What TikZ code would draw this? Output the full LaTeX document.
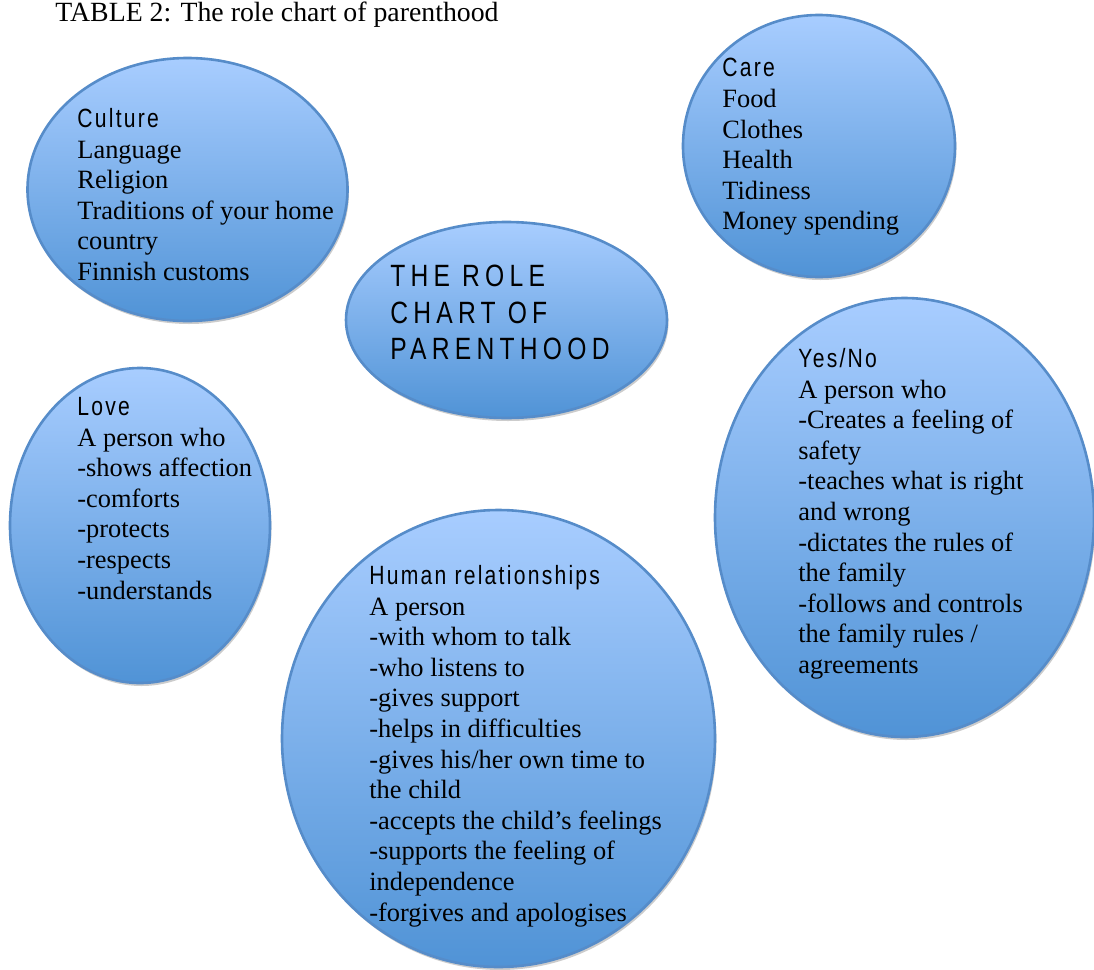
\documentclass[tikz,border=0pt]{standalone}
\usepackage{fontspec}
\setmainfont{Liberation Serif}
\newfontfamily\headfont[FakeStretch=0.8,LetterSpace=8.5]{Liberation Sans}
\newfontfamily\rolefont[FakeStretch=0.8,LetterSpace=17]{Liberation Sans}
\usepackage{tikz}

\definecolor{bubbletop}{RGB}{168,205,255}
\definecolor{bubblebot}{RGB}{80,147,214}
\definecolor{bubbleline}{RGB}{86,140,201}

\tikzset{
  bubble/.style={draw=bubbleline, line width=1.3pt, top color=bubbletop, bottom color=bubblebot},
  bubbleshadow/.style={fill=black!20, draw=none, shift={(1.5,3)}},
  bubbletext/.style={anchor=north west, inner sep=0pt, align=left, font=\fontsize{13.2}{15.3}\selectfont}
}

\begin{document}
\begin{tikzpicture}[x=0.5pt,y=0.5pt,yscale=-1,xscale=1]
\useasboundingbox (0,0) rectangle (1094,970);

%Shape: Ellipse [culture]
\path [bubbleshadow] (187.5,189.5) ellipse (160 and 131.5);
\draw [bubble] (187.5,189.5) ellipse (160 and 131.5);
%Shape: Ellipse [care]
\path [bubbleshadow] (819,146) ellipse (136 and 131);
\draw [bubble] (819,146) ellipse (136 and 131);
%Shape: Ellipse [role]
\path [bubbleshadow] (506.5,320) ellipse (160.5 and 98);
\draw [bubble] (506.5,320) ellipse (160.5 and 98);
%Shape: Ellipse [love]
\path [bubbleshadow] (140,525.5) ellipse (130 and 157.5);
\draw [bubble] (140,525.5) ellipse (130 and 157.5);
%Shape: Ellipse [yes/no]
\path [bubbleshadow] (904.5,517.5) ellipse (189.5 and 219.5);
\draw [bubble] (904.5,517.5) ellipse (189.5 and 219.5);
%Shape: Ellipse [human relationships]
\path [bubbleshadow] (498.5,738.5) ellipse (216.5 and 228.5);
\draw [bubble] (498.5,738.5) ellipse (216.5 and 228.5);

% Text Node
\draw (55,21) node (tabletitle) [anchor=base west] [inner sep=0pt] [font=\fontsize{13.9}{16}\selectfont] {TABLE 2: The role chart of parenthood};
% Text Node
\draw (77,108) node (culturetxt) [bubbletext] {{\headfont Culture}\\Language\\Religion\\Traditions of your home\\country\\Finnish customs};
% Text Node
\draw (722,58) node (caretxt) [bubbletext] {{\headfont Care}\\Food\\Clothes\\Health\\Tidiness\\Money spending};
% Text Node
\draw (390,265) node (roletxt) [bubbletext] [font=\rolefont\fontsize{15.4}{18.25}\selectfont] {THE ROLE\\CHART OF\\PARENTHOOD};
% Text Node
\draw (77,397) node (lovetxt) [bubbletext] {{\headfont Love}\\A person who\\-shows affection\\-comforts\\-protects\\-respects\\-understands};
% Text Node
\draw (798,348) node (yesnotxt) [bubbletext] {{\headfont Yes/No}\\A person who\\-Creates a feeling of\\safety\\-teaches what is right\\and wrong\\-dictates the rules of\\the family\\-follows and controls\\the family rules /\\agreements};
% Text Node
\draw (369,565) node (humantxt) [bubbletext] {{\headfont Human relationships}\\A person\\-with whom to talk\\-who listens to\\-gives support\\-helps in difficulties\\-gives his/her own time to\\the child\\-accepts the child’s feelings\\-supports the feeling of\\independence\\-forgives and apologises};

\end{tikzpicture}
\end{document}
